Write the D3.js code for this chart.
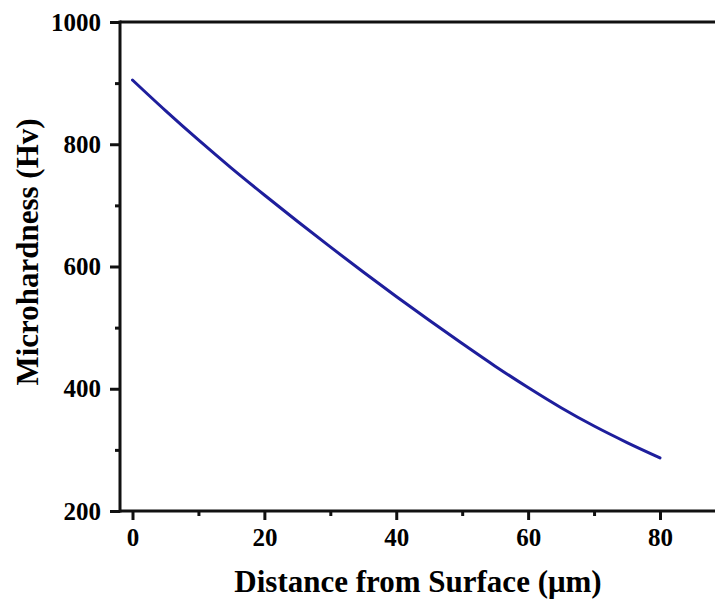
<!DOCTYPE html>
<html>
<head>
<meta charset="utf-8">
<script src="https://cdn.jsdelivr.net/npm/d3@7"></script>
<style>
  html, body { margin: 0; padding: 0; background: #fff; }
  svg { display: block; }
  text { font-family: "Liberation Serif", "Times New Roman", serif; font-weight: bold; fill: #000; }
</style>
</head>
<body>
<svg id="chart" width="715" height="605"></svg>
<script>
// Data
const distance = [0, 5, 10, 15, 20, 25, 30, 35, 40, 45, 50, 55, 60, 65, 70, 75, 80];
const hardness = [905, 855, 807, 761, 717, 674, 632, 591, 551, 512, 474, 437, 402, 369, 339, 312, 287];
const xMajorTicks = [0, 20, 40, 60, 80];
const xMinorTicks = [10, 30, 50, 70, 90];
const yMajorTicks = [200, 400, 600, 800, 1000];
const yMinorTicks = [300, 500, 700, 900];
const xTitle = "Distance from Surface (\u03bcm)";
const yTitle = "Microhardness (Hv)";

(function () {
const svg = d3.select("#chart");
const mLeft = 120, mTop = 22, mBottom = 511;
const pxPerUnit = (660 - 132.5) / 80;
const xMin = -(132.5 - mLeft) / pxPerUnit;
const xMax = 92;
const x = d3.scaleLinear().domain([xMin, xMax]).range([mLeft, mLeft + (xMax - xMin) * pxPerUnit]);
const y = d3.scaleLinear().domain([200, 1000]).range([mBottom, mTop]);

const axisColor = "#111";

// X axis (bottom)
const gx = svg.append("g").attr("transform", `translate(0,${mBottom})`);
gx.call(d3.axisBottom(x).tickValues(xMajorTicks).tickSize(9).tickSizeOuter(0).tickPadding(8).tickFormat(d3.format("d")));
gx.call(g => g.select(".domain").remove());
gx.append("g").call(d3.axisBottom(x).tickValues(xMinorTicks).tickSize(5).tickFormat(""))
  .call(g => g.select(".domain").remove());
gx.selectAll(".tick line").attr("stroke", axisColor).attr("stroke-width", 3);
gx.selectAll(".tick text").attr("font-size", 25).attr("font-family", "Liberation Serif").attr("font-weight", "bold").attr("fill", "#000");

// Y axis (left)
const gy = svg.append("g").attr("transform", `translate(${mLeft},0)`);
gy.call(d3.axisLeft(y).tickValues(yMajorTicks).tickSize(10).tickSizeOuter(0).tickPadding(9).tickFormat(d3.format("d")));
gy.call(g => g.select(".domain").remove());
gy.append("g").call(d3.axisLeft(y).tickValues(yMinorTicks).tickSize(5).tickFormat(""))
  .call(g => g.select(".domain").remove());
gy.selectAll(".tick line").attr("stroke", axisColor).attr("stroke-width", 3);
gy.selectAll(".tick text").attr("font-size", 25).attr("font-family", "Liberation Serif").attr("font-weight", "bold").attr("fill", "#000");

// Frame lines
const xr = x.range();
svg.append("line").attr("x1", mLeft).attr("x2", xr[1]).attr("y1", mBottom).attr("y2", mBottom)
  .attr("stroke", axisColor).attr("stroke-width", 3);
svg.append("line").attr("x1", mLeft).attr("x2", xr[1]).attr("y1", mTop).attr("y2", mTop)
  .attr("stroke", axisColor).attr("stroke-width", 3);
svg.append("line").attr("x1", mLeft).attr("x2", mLeft).attr("y1", mTop - 1.5).attr("y2", mBottom + 1.5)
  .attr("stroke", axisColor).attr("stroke-width", 3);

// Curve
const line = d3.line().x((d, i) => x(distance[i])).y(d => y(d)).curve(d3.curveMonotoneX);
svg.append("path").datum(hardness)
  .attr("d", line)
  .attr("fill", "none")
  .attr("stroke", "#1e1e9c")
  .attr("stroke-width", 3)
  .attr("stroke-linecap", "round");

// Axis titles
svg.append("text")
  .attr("x", 418).attr("y", 592)
  .attr("text-anchor", "middle")
  .attr("font-size", 31)
  .text(xTitle);

svg.append("text")
  .attr("transform", "translate(38,252) rotate(-90)")
  .attr("text-anchor", "middle")
  .attr("font-size", 31)
  .text(yTitle);
})();
</script>
</body>
</html>
